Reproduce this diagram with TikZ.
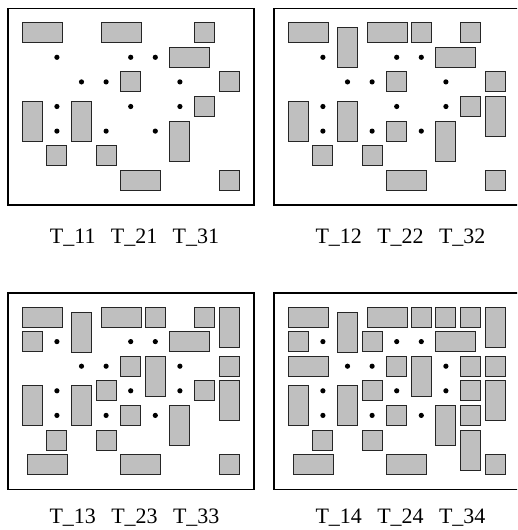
\documentclass[tikz,border=0pt]{standalone}
\usepackage{fontspec}
\setmainfont{Liberation Serif}
\begin{document}
\begin{tikzpicture}[x=1pt,y=-1pt,
  frame/.style={draw=black,line width=1.6pt},
  blk/.style={draw=black!85,fill=black!25,line width=0.9pt},
  pt/.style={fill=black},
  lbl/.style={font=\fontsize{22}{26}\selectfont,anchor=base,inner sep=0pt}]
\useasboundingbox (0,0) rectangle (517,530);
\clip (0,0) rectangle (517,530);
\newcommand\rbox[4]{\draw[blk] (#1,#2) rectangle (#3,#4);}
\newcommand\basepanel{%
  \draw[frame] (8,8.5) rectangle (254,205);
  \rbox{22.3}{22.7}{62.3}{42.7}
  \rbox{101}{22.7}{141}{42.7}
  \rbox{194.5}{22.7}{214.5}{42.7}
  \rbox{169.9}{47.3}{209.9}{67.3}
  \rbox{120.7}{71.9}{140.7}{91.9}
  \rbox{219.1}{71.9}{239.1}{91.9}
  \rbox{22.3}{101.3}{42.3}{141.3}
  \rbox{71.5}{101.3}{91.5}{141.3}
  \rbox{194.5}{96.5}{214.5}{116.5}
  \rbox{169.9}{121.1}{189.9}{161.1}
  \rbox{46.9}{145.7}{66.9}{165.7}
  \rbox{96.1}{145.7}{116.1}{165.7}
  \rbox{120.7}{170.3}{160.7}{190.3}
  \rbox{219.1}{170.3}{239.1}{190.3}
  \foreach \i/\j in {1/1,4/1,5/1,2/2,3/2,6/2,1/3,4/3,6/3,1/4,3/4,5/4}
    \fill[pt] ({32.3+24.6*\i},{32.7+24.6*\j}) circle (2.6);
}
\newcommand\secondset{%
  \rbox{71.5}{27.7}{91.5}{67.7}
  \rbox{145.3}{22.7}{165.3}{42.7}
  \rbox{219.1}{96.5}{239.1}{136.5}
  \rbox{120.7}{121.1}{140.7}{141.1}
}
\newcommand\thirdset{%
  \rbox{219.1}{22.7}{239.1}{62.7}
  \rbox{22.3}{47.3}{42.3}{67.3}
  \rbox{145.3}{71.9}{165.3}{111.9}
  \rbox{96.1}{96.5}{116.1}{116.5}
  \rbox{27.3}{170.3}{67.3}{190.3}
}
\newcommand\fourthset{%
  \rbox{169.9}{22.7}{189.9}{42.7}
  \rbox{96.1}{47.3}{116.1}{67.3}
  \rbox{22.3}{71.9}{62.3}{91.9}
  \rbox{194.5}{71.9}{214.5}{91.9}
  \rbox{194.5}{121.1}{214.5}{141.1}
  \rbox{194.5}{145.7}{214.5}{185.7}
}
% panel 1
\begin{scope}
  \basepanel
  \node[lbl] (l1) at (134.5,243) {T\_11\hspace{15.3pt}T\_21\hspace{15.3pt}T\_31};
\end{scope}
% panel 2
\begin{scope}[shift={(266,0)}]
  \basepanel
  \secondset
  \node[lbl] (l2) at (134.5,243) {T\_12\hspace{15.3pt}T\_22\hspace{15.3pt}T\_32};
\end{scope}
% panel 3
\begin{scope}[shift={(0,284.3)}]
  \basepanel
  \secondset
  \thirdset
  \node[lbl] (l3) at (134.5,239) {T\_13\hspace{15.3pt}T\_23\hspace{15.3pt}T\_33};
\end{scope}
% panel 4
\begin{scope}[shift={(266,284.3)}]
  \basepanel
  \secondset
  \thirdset
  \fourthset
  \node[lbl] (l4) at (134.5,239) {T\_14\hspace{15.3pt}T\_24\hspace{15.3pt}T\_34};
\end{scope}
\end{tikzpicture}
\end{document}
